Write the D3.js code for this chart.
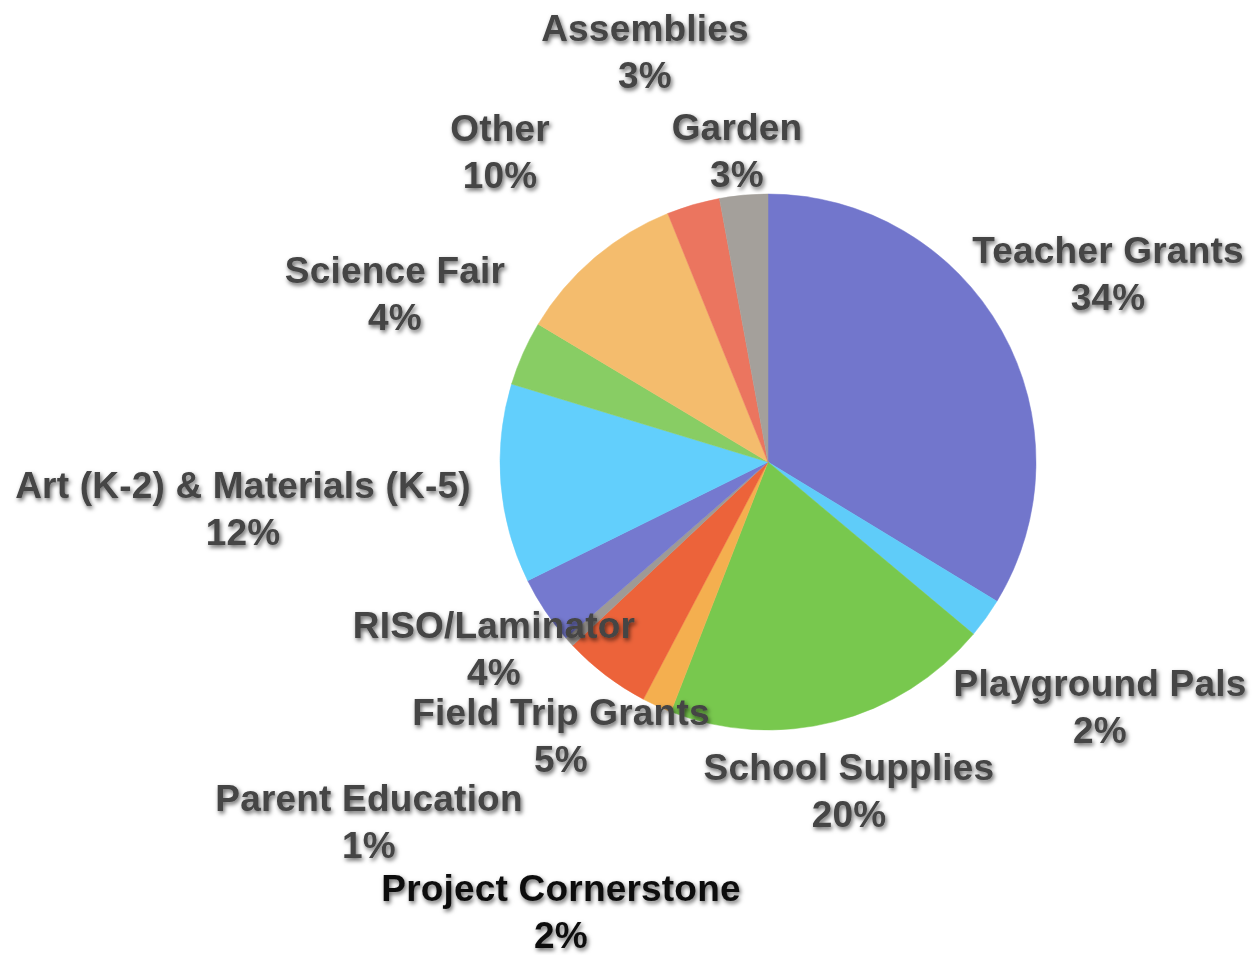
<!DOCTYPE html>
<html>
<head>
<meta charset="utf-8">
<script src="https://cdn.jsdelivr.net/npm/d3@7"></script>
<style>
  html, body { margin: 0; padding: 0; background: #fff; }
  svg { display: block; }
  text { font-family: "Liberation Sans", Arial, Helvetica, sans-serif; font-weight: bold; }
</style>
</head>
<body>
<svg id="chart" width="1255" height="955"></svg>
<script>
// Data (clockwise from 12 o'clock)
const categories = ["Teacher Grants", "Playground Pals", "School Supplies", "Project Cornerstone",
  "Field Trip Grants", "Parent Education", "RISO/Laminator", "Art (K-2) & Materials (K-5)",
  "Science Fair", "Other", "Garden", "Assemblies"];
const values = [33.7, 2.4, 19.8, 1.8, 5.3, 0.6, 4.1, 12.0, 3.9, 10.3, 3.2, 2.9];
const percentLabels = ["34%", "2%", "20%", "2%", "5%", "1%", "4%", "12%", "4%", "10%", "3%", "3%"];

// Styling / layout
const colors = ["#7276CC", "#5FCCF9", "#78C84E", "#F4AF4F", "#EC633A", "#9E9A96",
  "#7579CF", "#62CFFC", "#88CD64", "#F4BC6D", "#EB755F", "#A4A09B"];
const labelPos = [[1108, 250], [1100, 683], [849, 767], [561, 888], [561, 712], [369, 798],
  [494, 625], [243, 485], [395, 270], [500, 128], [737, 127], [645, 28]];
const labelColor = ["#444", "#444", "#444", "#111", "#444", "#444", "#444", "#444", "#444", "#444", "#444", "#444"];

const svg = d3.select("#chart");
const cx = 768, cy = 462, R = 268;

const defs = svg.append("defs");
const f = defs.append("filter").attr("id", "shadow").attr("x", "-10%").attr("y", "-30%")
  .attr("width", "120%").attr("height", "160%");
f.append("feDropShadow").attr("dx", 1.5).attr("dy", 2.5).attr("stdDeviation", 2)
  .attr("flood-color", "#000").attr("flood-opacity", 0.6);

const data = categories.map((c, i) => ({ name: c, value: values[i], pct: percentLabels[i], i }));

const pie = d3.pie().value(d => d.value).sort(null);
const arc = d3.arc().innerRadius(0).outerRadius(R);

const g = svg.append("g").attr("transform", `translate(${cx},${cy})`);
g.selectAll("path").data(pie(data)).join("path")
  .attr("d", arc)
  .attr("fill", d => colors[d.data.i])
  .attr("stroke", d => colors[d.data.i])
  .attr("stroke-width", 0.5);

const labels = svg.append("g").attr("filter", "url(#shadow)");
data.forEach((d, i) => {
  const t = labels.append("text")
    .attr("text-anchor", "middle")
    .attr("font-size", 37)
    .attr("letter-spacing", 0.2)
    .attr("fill", labelColor[i])
    .attr("x", labelPos[i][0])
    .attr("y", labelPos[i][1]);
  t.append("tspan").attr("x", labelPos[i][0]).attr("dy", "0.35em").text(d.name);
  t.append("tspan").attr("x", labelPos[i][0]).attr("dy", 47).text(d.pct);
});
</script>
</body>
</html>
